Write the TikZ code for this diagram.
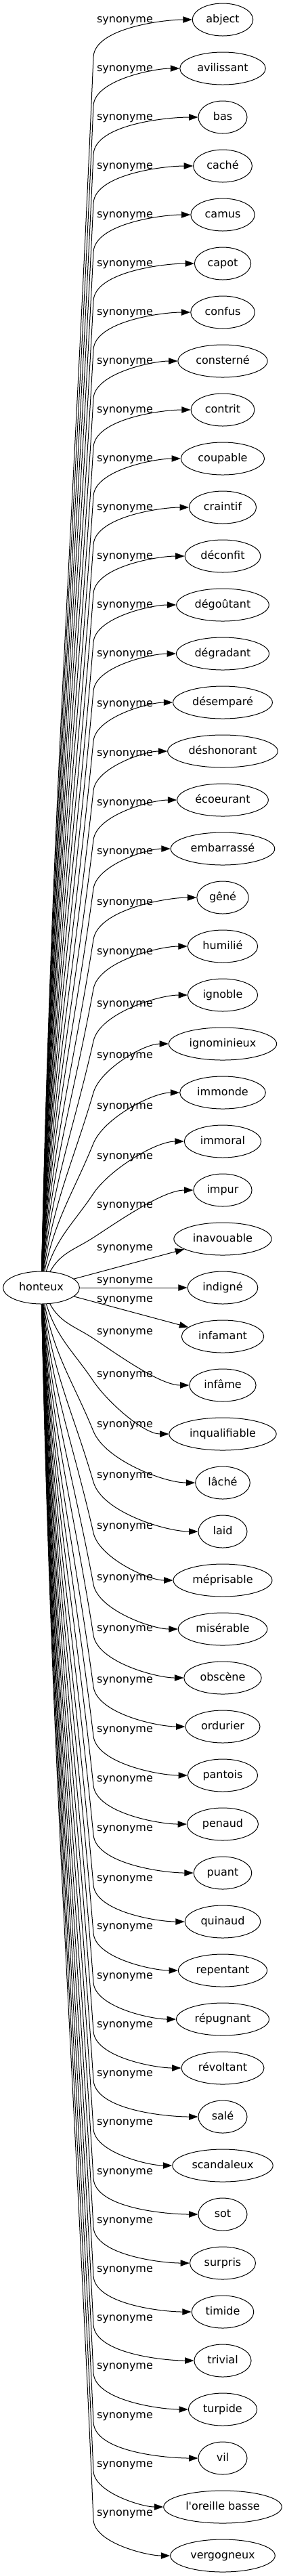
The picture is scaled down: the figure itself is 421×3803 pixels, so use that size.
\documentclass[tikz,border=0pt]{standalone}
\usepackage{fontspec}
\setmainfont{DejaVu Sans}
\usetikzlibrary{arrows.meta,shapes.geometric,calc}
\tikzset{
  wort/.style={ellipse,draw,line width=0.2pt,minimum width=14.4pt,minimum height=9.6pt,
    inner xsep=1.4pt,inner ysep=0.8pt,text height=2.3pt,text depth=0.7pt,
    font=\fontsize{3.2pt}{3.8pt}\selectfont},
  rel/.style={inner sep=0pt,text height=2.3pt,text depth=0.7pt,font=\fontsize{3.2pt}{3.8pt}\selectfont},
  syn/.style={-{Triangle[length=2.67pt,width=1.87pt]},line width=0.2pt},
}

\begin{document}
\begin{tikzpicture}[x=0.2pt,y=0.2pt]
  \useasboundingbox (0,0) rectangle (421,-3803);
  \node[wort] (h) at (61,-1901) {honteux};
  % index / word / y of the edge label
  \foreach \i/\txt/\ly in {0/abject/29, 1/avilissant/101, 2/bas/173, 3/caché/245,
      4/camus/317, 5/capot/389, 6/confus/461, 7/consterné/533, 8/contrit/605,
      9/coupable/677, 10/craintif/749, 11/déconfit/821, 12/dégoûtant/893,
      13/dégradant/965, 14/désemparé/1039, 15/déshonorant/1112, 16/écoeurant/1185,
      17/embarrassé/1257, 18/gêné/1332, 19/humilié/1405, 20/ignoble/1482,
      21/ignominieux/1558, 22/immonde/1633, 23/immoral/1707, 24/impur/1779,
      25/inavouable/1842, 26/indigné/1890, 27/infamant/1918, 28/infâme/1966,
      29/inqualifiable/2029, 30/lâché/2103, 31/laid/2178, 32/méprisable/2253,
      33/misérable/2329, 34/obscène/2404, 35/ordurier/2480, 36/pantois/2553,
      37/penaud/2626, 38/puant/2699, 39/quinaud/2773, 40/repentant/2844,
      41/répugnant/2917, 42/révoltant/2989, 43/salé/3061, 44/scandaleux/3133,
      45/sot/3206, 46/surpris/3278, 47/timide/3350, 48/trivial/3422,
      49/turpide/3493, 50/vil/3566, 51/l\textquotesingle oreille basse/3638,
      52/vergogneux/3710}{
    \pgfmathsetmacro{\yy}{29+72*\i}
    \node[wort] (s\i) at (329,-\yy) {\txt};
    \node[rel] (r\i) at (184.5,-\ly) {synonyme};
    \ifnum\i<25
      \pgfmathsetmacro{\ky}{\ly+ifthenelse(\i==24,48,55)}
      \pgfmathsetmacro{\wi}{atan2(1877-\ky,77)}
      \pgfmathsetmacro{\wo}{(90+\wi)/2}
      \pgfmathsetmacro{\wb}{\wi+180}
      \coordinate (k\i) at (138,-\ky);
      \draw[syn] (h) to[out=\wo,in=\wb] (k\i) to[out=\wi,in=180,looseness=0.7] (s\i);
    \else\ifnum\i<28
      \draw[syn] (h) -- (s\i);
    \else
      \pgfmathsetmacro{\ky}{\ly+10}
      \pgfmathsetmacro{\wi}{atan2(\ky-1925,77)}
      \pgfmathsetmacro{\wo}{360-(90+\wi)/2}
      \pgfmathsetmacro{\wb}{180-\wi}
      \pgfmathsetmacro{\wc}{360-\wi}
      \coordinate (k\i) at (138,-\ky);
      \draw[syn] (h) to[out=\wo,in=\wb] (k\i) to[out=\wc,in=180,looseness=0.7] (s\i);
    \fi\fi
  }
\end{tikzpicture}
\end{document}
